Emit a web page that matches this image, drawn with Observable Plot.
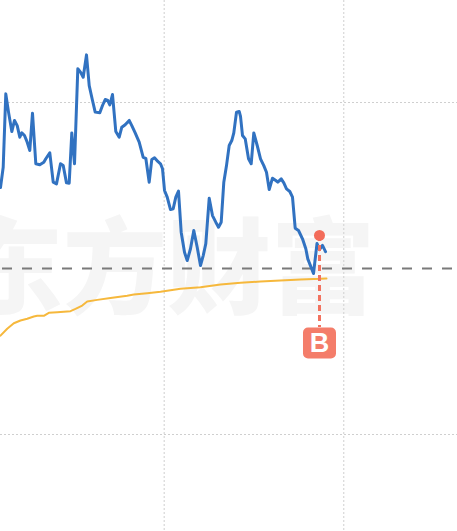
<!DOCTYPE html>
<html><head><meta charset="utf-8">
<script src="https://cdn.jsdelivr.net/npm/d3@7"></script>
<script src="https://cdn.jsdelivr.net/npm/@observablehq/plot@0.6"></script>
<style>html,body{margin:0;padding:0;background:#fff;overflow:hidden} #chart svg{display:block}</style>
</head><body><div id="chart"></div>
<script>
// minutes since 9:30 and % change vs previous close
const priceTimes = [5.31,6.21,7.08,7.99,9.09,9.99,10.89,11.76,12.43,13.33,14.23,15.10,16.00,17.11,18.44,19.78,20.45,21.78,22.92,24.02,25.36,26.26,27.36,28.26,29.13,30.04,31.14,32.04,32.94,34.04,34.95,36.05,36.95,38.49,39.39,40.29,41.16,41.83,42.73,43.84,44.97,45.84,46.97,48.31,49.18,50.31,51.65,52.99,53.86,54.99,55.86,56.77,57.87,58.77,59.44,60.11,61.01,62.11,63.01,63.88,64.78,65.68,66.79,67.69,68.79,69.89,71.03,72.13,73.04,73.90,75.04,76.14,77.24,78.15,79.05,79.92,80.82,81.72,82.59,83.26,84.16,85.06,85.50,86.17,87.07,88.18,89.07,89.94,91.08,92.18,93.28,94.18,95.09,96.19,97.29,97.96,99.10,99.97,100.87,101.97,102.87,103.77,104.88,106.21,107.32,107.98,109.89,111.06,111.89,112.89,113.90];
const priceValues = [0.488,0.610,1.052,0.942,0.825,0.892,0.861,0.791,0.817,0.801,0.761,0.711,0.936,0.631,0.625,0.640,0.661,0.697,0.520,0.510,0.631,0.620,0.516,0.514,0.817,0.631,1.203,1.183,1.152,1.287,1.102,1.012,0.942,0.938,0.982,1.018,1.012,0.986,1.048,0.825,0.791,0.851,0.866,0.892,0.861,0.817,0.761,0.670,0.664,0.520,0.657,0.667,0.645,0.631,0.601,0.470,0.430,0.355,0.360,0.430,0.466,0.219,0.098,0.048,0.119,0.229,0.128,0.018,0.078,0.149,0.423,0.319,0.279,0.249,0.279,0.520,0.620,0.741,0.771,0.817,0.942,0.946,0.916,0.801,0.781,0.661,0.631,0.817,0.741,0.661,0.620,0.580,0.476,0.544,0.530,0.520,0.540,0.516,0.480,0.464,0.430,0.243,0.229,0.179,0.119,0.058,-0.030,0.151,0.114,0.139,0.102];
const avgTimes = [5.31,7.55,9.76,11.99,14.23,16.44,17.57,19.78,21.45,24.26,28.70,30.37,32.61,34.28,37.62,42.06,47.64,49.85,54.32,58.77,65.45,72.13,78.82,85.50,92.18,98.86,105.54,112.23,114.23];
const avgValues = [-0.404,-0.363,-0.330,-0.313,-0.303,-0.289,-0.285,-0.285,-0.267,-0.263,-0.257,-0.243,-0.223,-0.199,-0.189,-0.177,-0.164,-0.157,-0.149,-0.140,-0.122,-0.113,-0.096,-0.086,-0.078,-0.072,-0.066,-0.062,-0.060];
const timeGrid = [60, 120];
const valueGrid = [-1, 1];
const baseline = [0];
const signalTimes = [111.89];
const signalValues = [0.199];
const signalLabels = ["B"];
const watermark = ["东方财富"];

const price = priceTimes.map((t, i) => ({t, v: priceValues[i]}));
const avg = avgTimes.map((t, i) => ({t, v: avgValues[i]}));
const signals = signalTimes.map((t, i) => ({t, v: signalValues[i], label: signalLabels[i]}));

const roundRect = {
  draw(ctx) {
    const w = 16.5, h = 15.5, r = 5;
    ctx.moveTo(-w + r, -h);
    ctx.arcTo(w, -h, w, h, r);
    ctx.arcTo(w, h, -w, h, r);
    ctx.arcTo(-w, h, -w, -h, r);
    ctx.arcTo(-w, -h, w, -h, r);
    ctx.closePath();
  }
};

const chart = Plot.plot({
  width: 457,
  height: 531,
  margin: 0,
  style: {background: "#fff"},
  x: {domain: [5.31, 158.0], axis: null},
  y: {domain: [-1.5843, 1.6145], axis: null},
  marks: [
    Plot.text(watermark, {text: d => d, frameAnchor: "middle", dx: -62, dy: 7, fontSize: 104, fontWeight: 900, fontFamily: "Noto Sans CJK SC", fill: "#f5f5f5"}),
    Plot.ruleX(timeGrid, {stroke: "#cfcfcf", strokeWidth: 1, strokeDasharray: "2,2"}),
    Plot.ruleY(valueGrid, {stroke: "#cfcfcf", strokeWidth: 1, strokeDasharray: "2,2"}),
    Plot.ruleY(baseline, {stroke: "#7a7a7a", strokeWidth: 2, strokeDasharray: "10,10", strokeDashoffset: -2}),
    Plot.line(avg, {x: "t", y: "v", stroke: "#f6b83c", strokeWidth: 2}),
    Plot.line(price, {x: "t", y: "v", stroke: "#3172c1", strokeWidth: 3, strokeLinejoin: "round"}),
    Plot.ruleX(signals, {x: "t", y1: "v", y2: "v", insetBottom: -92, stroke: "#f2725f", strokeWidth: 3, strokeDasharray: "6,4"}),
    Plot.dot(signals, {x: "t", y: "v", r: 5.5, fill: "#f36c5a", stroke: "none"}),
    Plot.dot(signals, {x: "t", y: "v", dy: 107.5, symbol: roundRect, fill: "#f47d6a", stroke: "none"}),
    Plot.text(signals, {x: "t", y: "v", dy: 107.5, text: "label", fill: "#fff", fontSize: 27, fontWeight: "bold", fontFamily: "Liberation Sans, Arial, sans-serif"})
  ]
});
document.getElementById("chart").appendChild(chart);
</script>
</body></html>
